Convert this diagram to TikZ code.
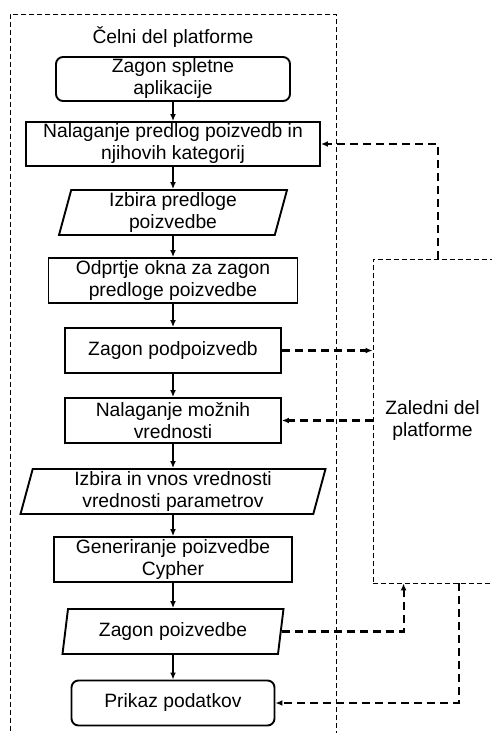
\documentclass[tikz,border=0pt]{standalone}
\usepackage{fontspec}
\setmainfont{Liberation Sans}
\usetikzlibrary{arrows.meta, shapes.geometric, calc}

\begin{document}
\begin{tikzpicture}[x=1pt, y=-1pt,
  every node/.style={font=\fontsize{19.3}{22}\selectfont, align=center, inner sep=0pt},
  stepbox/.style={draw, line width=1.9pt, minimum height=45pt},
  endbox/.style={stepbox, rounded corners=7pt},
  iobox/.style={draw, line width=1.9pt, trapezium, trapezium left angle=73, trapezium right angle=107,
    trapezium stretches body=true, minimum height=45pt},
  area/.style={draw, line width=0.9pt, dash pattern=on 5pt off 3pt},
  flow/.style={line width=1.6pt, -{Latex[length=7pt,width=6pt]}},
  call/.style={line width=2.1pt, dash pattern=on 8pt off 5pt, -{Latex[length=7pt,width=6pt]}}]

\useasboundingbox (0,0) rectangle (491,733);

% ---- AREAS ----
\node[area, minimum width=326pt, minimum height=740pt, anchor=north west] (front) at (10,14) {};
\node (frontlbl) at (173,37) {Čelni del platforme};
\node[area, minimum width=119pt, minimum height=324pt] (back) at (432.5,421) {Zaledni del\\platforme};

% ---- STEPS ----
\node[endbox, minimum width=234pt, minimum height=44pt] (start) at (173,79) {Zagon spletne\\aplikacije};
\node[stepbox, minimum width=294pt, minimum height=44pt] (load) at (173,144) {Nalaganje predlog poizvedb in\\njihovih kategorij};
\node[iobox, minimum width=228pt] (pick) at (173,212.5) {Izbira predloge\\poizvedbe};
\node[stepbox, minimum width=249pt] (window) at (173,280.5) {Odprtje okna za zagon\\predloge poizvedbe};
\node[stepbox, minimum width=216pt] (sub) at (173,350.5) {Zagon podpoizvedb};
\node[stepbox, minimum width=216pt] (vals) at (173,420.5) {Nalaganje možnih\\vrednosti};
\node[iobox, minimum width=305pt] (input) at (173,491.5) {Izbira in vnos vrednosti\\vrednosti parametrov};
\node[stepbox, minimum width=238pt] (gen) at (173,559.5) {Generiranje poizvedbe\\Cypher};
\node[iobox, minimum width=221pt] (run) at (173,631.5) {Zagon poizvedbe};
\node[endbox, minimum width=203pt] (show) at (173,703) {Prikaz podatkov};

% ---- FLOW ----
\foreach \a/\b in {start/load, load/pick, pick/window, window/sub, sub/vals, vals/input, input/gen, gen/run, run/show}
  \draw[flow] (\a.south) -- (\b.north);

% ---- CALLS TO BACKEND ----
\draw[call] ($(back.north)+(5.5,0)$) |- (load.east);
\draw[call] (sub.east) -- (sub.east -| back.west);
\draw[call] (vals.east -| back.west) -- (vals.east);
\draw[call] (run.east) -| ($(back.south west)+(31,0)$);
\draw[call] ($(back.south west)+(86,0)$) |- (show.east);

\end{tikzpicture}
\end{document}
